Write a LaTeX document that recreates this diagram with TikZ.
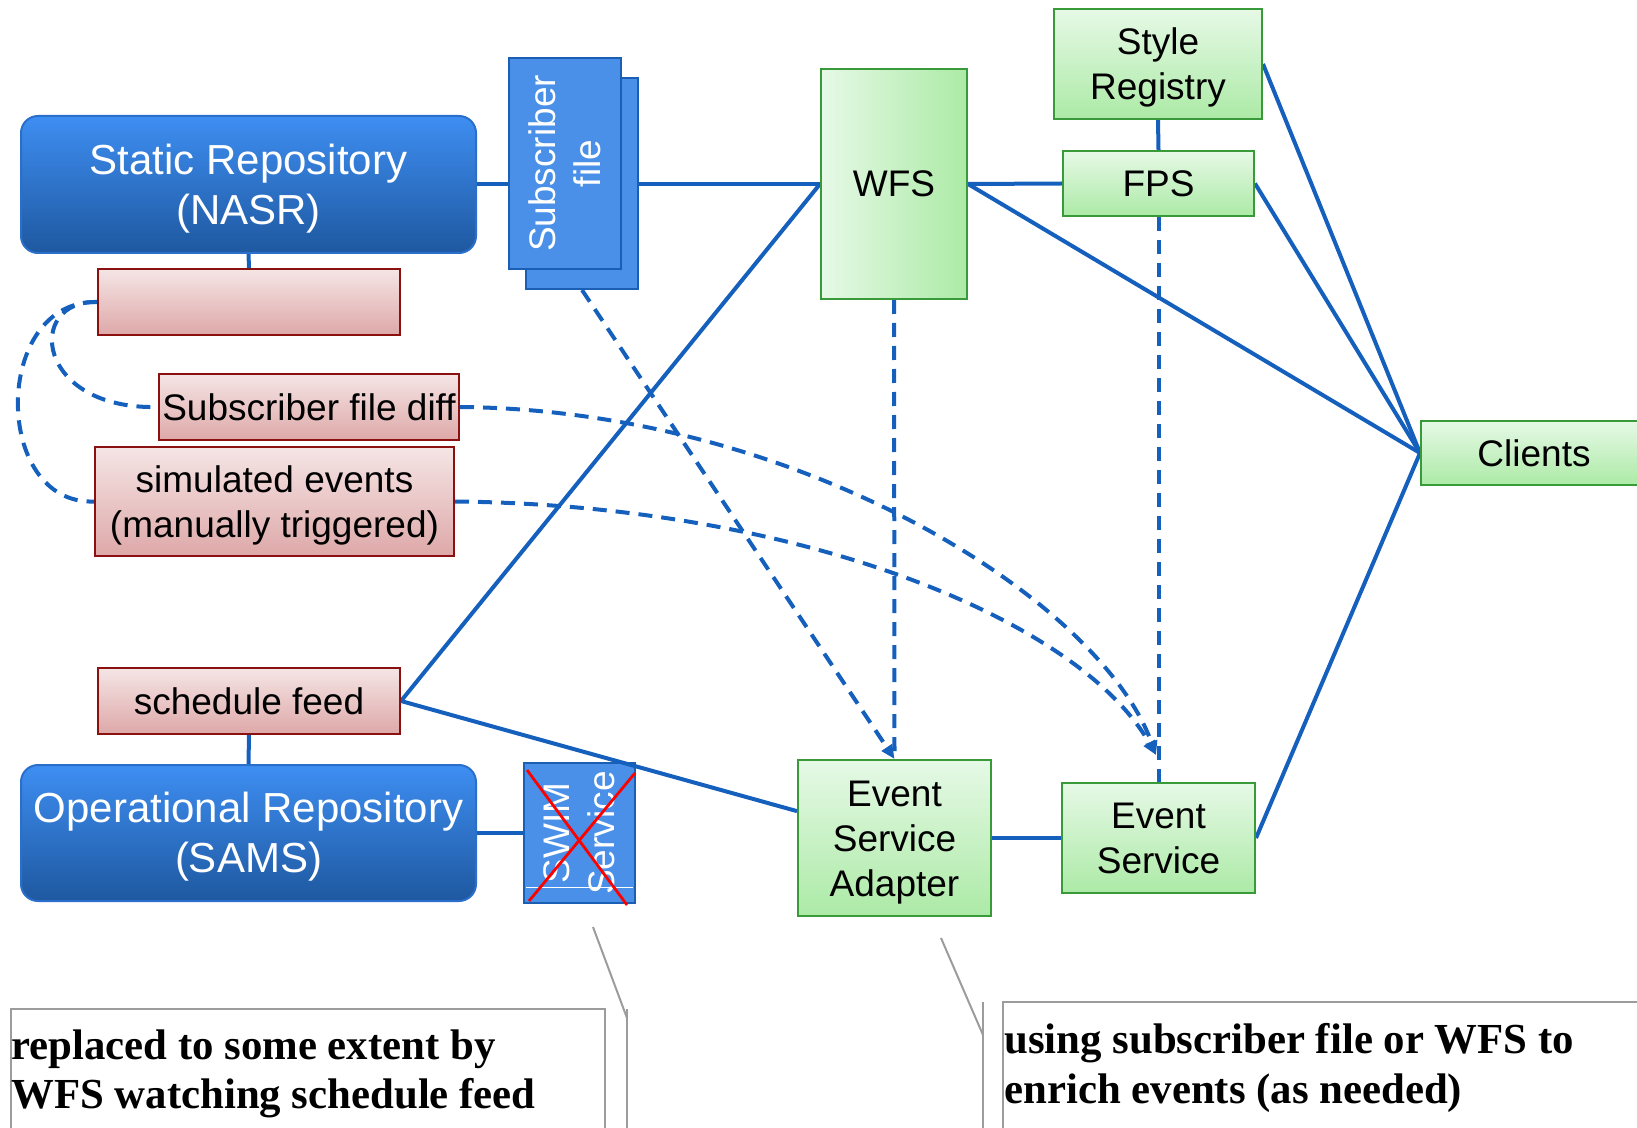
\documentclass[tikz,border=0pt]{standalone}
\usepackage{fontspec}
\setmainfont{Liberation Sans}
\newfontfamily\notefont{Liberation Serif}
\usetikzlibrary{arrows.meta,calc}
\pgfdeclarelayer{bg}
\pgfsetlayers{bg,main}
\definecolor{cblue}{HTML}{1560BD}
\definecolor{repotop}{HTML}{3E8EF2}
\definecolor{repobot}{HTML}{1E58A0}
\definecolor{repoborder}{HTML}{2A6FCC}
\definecolor{pinktop}{HTML}{F5E5E5}
\definecolor{pinkbot}{HTML}{DEA8A8}
\definecolor{pinkborder}{HTML}{8B1010}
\definecolor{greentop}{HTML}{E6F9E6}
\definecolor{greenbot}{HTML}{ACEAA6}
\definecolor{greenborder}{HTML}{389A38}
\definecolor{filefill}{HTML}{4A90E8}
\definecolor{fileborder}{HTML}{1A5FB4}
\definecolor{notegray}{HTML}{9C9C9C}
\newcommand{\bigstrut}{\rule{0pt}{19pt}}
\newcommand{\smallstrut}{\rule{0pt}{17.3pt}}
\tikzset{
  conn/.style={draw=cblue, line width=2pt},
  dconn/.style={conn, dash pattern=on 7pt off 4.5pt},
  tip/.style={-{Triangle[length=7pt,width=6pt]}},
  repo/.style={draw=repoborder, line width=1pt, rounded corners=8.5pt, top color=repotop, bottom color=repobot, text=white, font=\fontsize{21}{25}\selectfont, align=center, inner sep=0pt},
  pinkbox/.style={draw=pinkborder, line width=1pt, top color=pinktop, bottom color=pinkbot, font=\fontsize{18.5}{22.5}\selectfont, align=center, inner sep=0pt},
  greenbox/.style={draw=greenborder, line width=1pt, top color=greentop, bottom color=greenbot, font=\fontsize{18.5}{22.5}\selectfont, align=center, inner sep=0pt},
  greenh/.style={draw=greenborder, line width=1pt, left color=greentop, right color=greenbot, font=\fontsize{18.5}{22.5}\selectfont, align=center, inner sep=0pt},
  filebox/.style={draw=fileborder, fill=filefill, line width=1pt, text=white, rotate=90, font=\fontsize{18.5}{22.5}\selectfont, align=center, inner sep=0pt},
  callout/.style={draw=notegray, line width=1pt},
  notetext/.style={anchor=base west, inner sep=0pt, font=\notefont\bfseries\fontsize{21.4}{25}\selectfont}
}
\begin{document}
\begin{tikzpicture}[x=0.5pt,y=-0.5pt]
\useasboundingbox (0,0) rectangle (1637,1128);
% repositories
\node[repo, minimum width=227.5pt, minimum height=68.5pt] (SR) at (248.5,184.5) {\bigstrut Static Repository\\(NASR)};
\node[repo, minimum width=227.5pt, minimum height=68pt] (OR) at (248.5,833) {\bigstrut Operational Repository\\(SAMS)};
% pink boxes
\node[pinkbox, minimum width=151pt, minimum height=33pt] (P1) at (249,302) {};
\node[pinkbox, minimum width=150pt, minimum height=33pt] (SFD) at (309,407) {Subscriber file diff};
\node[pinkbox, minimum width=179.5pt, minimum height=54.5pt] (SIM) at (274.5,501.5) {\smallstrut simulated events\\(manually triggered)};
\node[pinkbox, minimum width=151pt, minimum height=33pt] (SCH) at (249,701) {schedule feed};
% subscriber file and swim
\node[filebox, minimum width=105.5pt, minimum height=56pt] (SFB) at (582,183.5) {};
\node[filebox, minimum width=105.5pt, minimum height=56pt] (SFF) at (565,163.5) {Subscriber\\file};
\node[filebox, minimum width=70pt, minimum height=55.5pt] (SWIM) at (579.5,833) {SWIM\\Service};
% green boxes
\node[greenh, minimum width=73pt, minimum height=115pt] (WFS) at (894,184) {WFS};
\node[greenbox, minimum width=104pt, minimum height=55pt] (STY) at (1158,64) {\smallstrut Style\\Registry};
\node[greenbox, minimum width=95.5pt, minimum height=32.5pt] (FPS) at (1158.5,183.5) {FPS};
\node[greenbox, minimum width=113pt, minimum height=32pt] (CLI) at (1534,453) {Clients};
\node[greenbox, minimum width=96.5pt, minimum height=78pt] (ESA) at (894.5,838) {\smallstrut Event\\Service\\Adapter};
\node[greenbox, minimum width=96.5pt, minimum height=55pt] (ES) at (1158.5,838) {Event\\Service};
\coordinate (esin) at (1156,755);
\coordinate (esaleft) at ($(ESA.north west)!0.33!(ESA.south west)$);
% connectors
\begin{pgfonlayer}{bg}
\draw[conn] (SR.east) -- (SR.east -| WFS.west);
\draw[conn] (SR.south) -- (P1.north);
\draw[conn] (WFS.east) -- (FPS.west);
\draw[conn] (STY.south) -- (FPS.north);
\draw[conn] (WFS.east) -- (CLI.west);
\draw[conn] (FPS.east) -- (CLI.west);
\draw[conn] (STY.east) -- (CLI.west);
\draw[conn] (ES.east) -- (CLI.west);
\draw[conn] (SCH.east) -- (WFS.west);
\draw[conn] (SCH.south) -- (OR.north);
\draw[conn] (OR.east) -- (OR.east -| SWIM.north);
\draw[conn] (ESA.east) -- (ESA.east -| ES.west);
\draw[dconn] (WFS.south) -- (ESA.north);
\draw[dconn] (FPS.south) -- (ES.north);
\draw[dconn] (P1.west) .. controls (25,300) and (35,410) .. (SFD.west);
\draw[dconn] (P1.west) .. controls (-8,300) and (-8,505) .. (SIM.west);
\end{pgfonlayer}
\draw[dconn, tip] (SFB.west) -- (ESA.north);
\draw[dconn, tip] (SFD.east) .. controls (800,410) and (1100,600) .. (esin);
\draw[dconn, tip] (SIM.east) .. controls (800,505) and (1080,620) .. (esin);
\draw[conn] (SCH.east) -- (esaleft);
% swim cross-out
\draw[white, line width=0.5pt] (526,887) -- (633,887);
\draw[red, line width=1.4pt] (527,770) -- (627,905);
\draw[red, line width=1.4pt] (635,773) -- (529,901);
% callouts
\draw[callout] (11,1150) -- (11,1009) -- (605,1009) -- (605,1150);
\draw[callout] (593,927) -- (627,1018);
\draw[callout] (627,1009) -- (627,1150);
\node[notetext] (n1a) at (11,1059) {replaced to some extent by};
\node[notetext] (n1b) at (11,1108) {WFS watching schedule feed};
\draw[callout] (1003,1150) -- (1003,1002) -- (1660,1002);
\draw[callout] (941,938) -- (983,1035);
\draw[callout] (983,1002) -- (983,1150);
\node[notetext] (n2a) at (1004,1053) {using subscriber file or WFS to};
\node[notetext] (n2b) at (1004,1103) {enrich events (as needed)};
\end{tikzpicture}
\end{document}
